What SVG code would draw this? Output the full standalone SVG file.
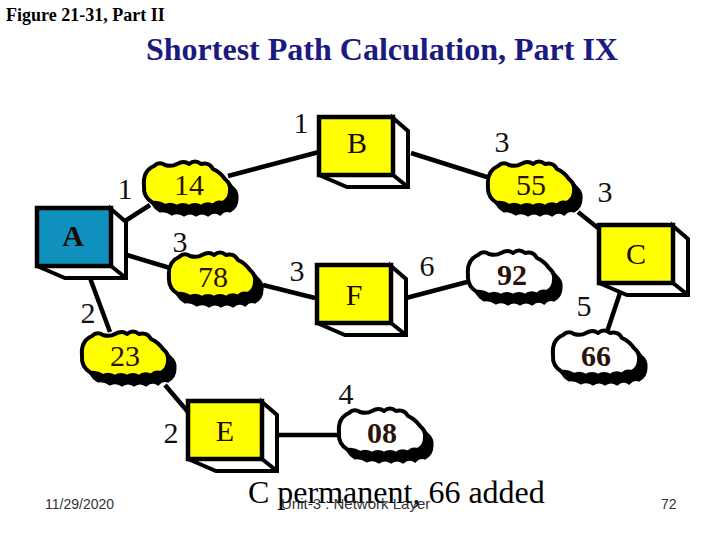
<svg xmlns="http://www.w3.org/2000/svg" width="720" height="540" viewBox="0 0 720 540">
<style>
text{font-family:"Liberation Serif","Times New Roman",serif;fill:#000}
.lb{font-size:30px;text-anchor:middle;fill:#111}
.cn{font-size:30px;text-anchor:middle;fill:#2a1208}
.cb{font-weight:bold}
.nm{font-size:30px;text-anchor:middle;fill:#1a0a05}
.ft{font-family:"Liberation Sans",Arial,sans-serif;font-size:14px;fill:#333}
.front{stroke:#000;stroke-width:4.5;stroke-linejoin:miter}
.y{fill:#ffff00}.b{fill:#1090bd}
.side{fill:#fff;stroke:#000;stroke-width:4;stroke-linejoin:miter}
.c{stroke:#000;stroke-width:4;stroke-linejoin:round}
.sh{fill:#000;stroke:#000;stroke-width:3}
#connectors line{stroke:#000;stroke-width:4.5;stroke-linecap:butt}
</style>
<defs>
<path id="cl" d="M-43,1C-44,-9 -40,-16 -33,-19Q-28,-24 -22,-20Q-15,-18 -10,-21Q-3,-25 2,-21Q8,-26 14,-21Q22,-23 26,-16Q33,-13 38,-6Q44,-1 43,6Q43,14 36,18Q30,16 26,21Q20,17 14,22Q8,18 2,22Q-4,18 -10,22Q-16,18 -22,21Q-28,17 -34,18Q-44,12 -43,1Z"/>
<g id="box"><path class="side" d="M74,1L89,14V70H28L0,58H74ZM74,58L89,70"/></g>
</defs>
<text x="6" y="21" font-size="18" font-weight="bold">Figure 21-31, Part II</text>
<text x="146" y="60" font-size="32" font-weight="bold" style="fill:#1a1a80">Shortest Path Calculation, Part IX</text>
<g id="connectors">
<line x1="125" y1="221" x2="150" y2="205"/>
<line x1="228" y1="176" x2="319" y2="152"/>
<line x1="127" y1="255" x2="170" y2="268"/>
<line x1="263" y1="285" x2="315" y2="298"/>
<line x1="411" y1="153" x2="490" y2="178"/>
<line x1="578" y1="212" x2="598" y2="228"/>
<line x1="406" y1="298" x2="467" y2="282"/>
<line x1="620" y1="293" x2="607" y2="332"/>
<line x1="90" y1="278" x2="110" y2="332"/>
<line x1="165" y1="385" x2="188" y2="412"/>
<line x1="277" y1="435" x2="338" y2="435"/>
</g>
<g id="node-A" transform="translate(37,208)"><use href="#box"/><rect class="front b" width="74" height="58"/><text class="nm cb" x="36" y="38">A</text></g>
<g id="node-B" transform="translate(319,117)"><use href="#box"/><rect class="front y" width="74" height="58"/><text class="nm" x="38" y="36">B</text></g>
<g id="node-C" transform="translate(599,225)"><use href="#box"/><rect class="front y" width="74" height="58"/><text class="nm" x="37" y="39">C</text></g>
<g id="node-F" transform="translate(317,265)"><use href="#box"/><rect class="front y" width="74" height="58"/><text class="nm" x="37" y="40">F</text></g>
<g id="node-E" transform="translate(188,401)"><use href="#box"/><rect class="front y" width="74" height="58"/><text class="nm" x="37" y="40">E</text></g>
<g id="cloud-14" transform="translate(187,185)"><use href="#cl" class="sh" x="7" y="8"/><use href="#cl" class="c y"/><text class="cn" x="2" y="10">14</text></g>
<g id="cloud-78" transform="translate(212,276)"><use href="#cl" class="sh" x="7" y="8"/><use href="#cl" class="c y"/><text class="cn" x="1" y="11">78</text></g>
<g id="cloud-55" transform="translate(531,185)"><use href="#cl" class="sh" x="7" y="8"/><use href="#cl" class="c y"/><text class="cn" x="0" y="10">55</text></g>
<g id="cloud-23" transform="translate(125,355)"><use href="#cl" class="sh" x="7" y="8"/><use href="#cl" class="c y"/><text class="cn" x="0" y="11">23</text></g>
<g id="cloud-92" transform="translate(511,274)"><use href="#cl" class="sh" x="7" y="8"/><use href="#cl" class="c" fill="#fff"/><text class="cn cb" x="1" y="11">92</text></g>
<g id="cloud-66" transform="translate(596,354)"><use href="#cl" class="sh" x="7" y="8"/><use href="#cl" class="c" fill="#fff"/><text class="cn cb" x="0" y="12">66</text></g>
<g id="cloud-08" transform="translate(382,432)"><use href="#cl" class="sh" x="7" y="8"/><use href="#cl" class="c" fill="#fff"/><text class="cn cb" x="0" y="11">08</text></g>
<g id="labels">
<text class="lb" x="301" y="133">1</text>
<text class="lb" x="125" y="199">1</text>
<text class="lb" x="180" y="252">3</text>
<text class="lb" x="297" y="281">3</text>
<text class="lb" x="88" y="323">2</text>
<text class="lb" x="502" y="152">3</text>
<text class="lb" x="605" y="202">3</text>
<text class="lb" x="427" y="276">6</text>
<text class="lb" x="584" y="316">5</text>
<text class="lb" x="346" y="404">4</text>
<text class="lb" x="171" y="443">2</text>
</g>
<text x="248" y="503" font-size="32">C permanent, 66 added</text>
<text class="ft" x="45" y="509">11/29/2020</text>
<text class="ft" x="281" y="509" style="font-size:15px">Unit-3 : Network Layer</text>
<text class="ft" x="661" y="509">72</text>
</svg>
